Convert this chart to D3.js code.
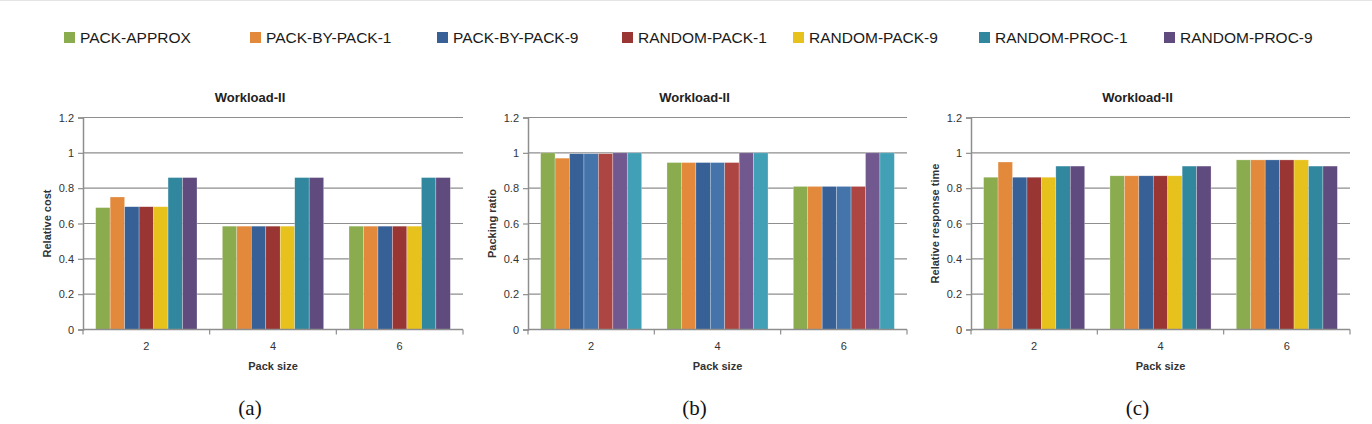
<!DOCTYPE html>
<html>
<head>
<meta charset="utf-8">
<script src="https://cdn.jsdelivr.net/npm/d3@7"></script>
<style>
  body { margin: 0; background: #fff; }
  svg { display: block; }
</style>
</head>
<body>
<svg id="chart" width="1372" height="424"></svg>
<script>
// data
var categories = ['2', '4', '6'];
var seriesNames = ['PACK-APPROX', 'PACK-BY-PACK-1', 'PACK-BY-PACK-9', 'RANDOM-PACK-1',
                   'RANDOM-PACK-9', 'RANDOM-PROC-1', 'RANDOM-PROC-9'];
var yTicks = [0, 0.2, 0.4, 0.6, 0.8, 1, 1.2];

// one row per pack size, one value per series
var costValues = [
  [0.69, 0.75, 0.695, 0.695, 0.695, 0.86, 0.86],
  [0.585, 0.585, 0.585, 0.585, 0.585, 0.86, 0.86],
  [0.585, 0.585, 0.585, 0.585, 0.585, 0.86, 0.86]
];
var packingValues = [
  [1.0, 0.97, 0.995, 0.995, 0.995, 1.0, 1.0],
  [0.945, 0.945, 0.945, 0.945, 0.945, 1.0, 1.0],
  [0.81, 0.81, 0.81, 0.81, 0.81, 1.0, 1.0]
];
var responseValues = [
  [0.862, 0.948, 0.862, 0.862, 0.862, 0.925, 0.925],
  [0.87, 0.87, 0.87, 0.87, 0.87, 0.925, 0.925],
  [0.96, 0.96, 0.96, 0.96, 0.96, 0.925, 0.925]
];

var legendColors = ['#8aab4e', '#e2893c', '#366096', '#993634', '#e7c11c', '#31879e', '#604b7e'];
// the middle panel uses a different fill order
var packingColors = ['#8aab4e', '#e2893c', '#366096', '#4574aa', '#ad4643', '#71588f', '#41a0b5'];

var panels = [
  {left: 83, right: 463, values: costValues, colors: legendColors, yLabel: 'Relative cost', caption: '(a)'},
  {left: 528, right: 907, values: packingValues, colors: packingColors, yLabel: 'Packing ratio', caption: '(b)'},
  {left: 971, right: 1350, values: responseValues, colors: legendColors, yLabel: 'Relative response time', caption: '(c)'}
];

var svg = d3.select('#chart');
var font = '"Liberation Sans", Arial, sans-serif';
var gridColor = '#8e8e8e';

// faint frame line along the top
svg.append('line')
  .attr('x1', 0).attr('x2', 1372)
  .attr('y1', 0.5).attr('y2', 0.5)
  .attr('stroke', '#e4e4e4');

// legend
var legendX = [64, 250, 437, 622, 793, 979, 1164];
var legend = svg.append('g').attr('class', 'legend');
seriesNames.forEach(function(name, i) {
  var g = legend.append('g').attr('transform', 'translate(' + legendX[i] + ',38)');
  g.append('rect')
    .attr('x', 0).attr('y', -6)
    .attr('width', 11).attr('height', 11)
    .attr('fill', legendColors[i]);
  g.append('text')
    .attr('x', 16).attr('y', 0)
    .attr('dy', '0.35em')
    .attr('font-family', font)
    .attr('font-size', 15.5)
    .attr('fill', '#1a1a1a')
    .text(name);
});

var yTop = 117.5, yBottom = 329.5;

panels.forEach(function(p) {
  var g = svg.append('g');

  var x0 = d3.scaleBand().domain(categories).range([p.left, p.right]).padding(0);
  var x1 = d3.scaleBand()
    .domain(d3.range(seriesNames.length))
    .range([x0.bandwidth() * 0.1, x0.bandwidth() * 0.9]);
  var y = d3.scaleLinear().domain([0, 1.2]).range([yBottom, yTop]);

  // horizontal gridlines
  g.selectAll('.grid')
    .data(yTicks.filter(function(t) { return t > 0; }))
    .enter().append('line')
    .attr('x1', p.left).attr('x2', p.right)
    .attr('y1', function(d) { return y(d); })
    .attr('y2', function(d) { return y(d); })
    .attr('stroke', gridColor)
    .attr('stroke-width', 1.2);

  // bars
  categories.forEach(function(c, ci) {
    g.selectAll('.bar-' + ci)
      .data(p.values[ci])
      .enter().append('rect')
      .attr('x', function(d, i) { return x0(c) + x1(i); })
      .attr('y', function(d) { return y(d); })
      .attr('width', x1.bandwidth())
      .attr('height', function(d) { return yBottom - y(d); })
      .attr('fill', function(d, i) { return p.colors[i]; })
      .attr('stroke', '#ffffff')
      .attr('stroke-opacity', 0.45)
      .attr('stroke-width', 0.6);
  });

  // y axis
  var yAxis = g.append('g')
    .attr('transform', 'translate(' + p.left + ',0)')
    .call(d3.axisLeft(y).tickValues(yTicks).tickSize(5).tickPadding(4)
      .tickFormat(function(d) { return d3.format('~g')(d); }));
  yAxis.select('.domain').attr('stroke', gridColor).attr('stroke-width', 1.5);
  yAxis.selectAll('.tick line').attr('stroke', gridColor).attr('stroke-width', 1.2);
  yAxis.selectAll('text')
    .attr('font-family', font).attr('font-size', 11).attr('fill', '#333');

  // x axis, ticks between categories
  var xAxis = g.append('g').attr('transform', 'translate(0,' + yBottom + ')');
  xAxis.append('line')
    .attr('x1', p.left).attr('x2', p.right)
    .attr('stroke', gridColor).attr('stroke-width', 1.5);
  var bounds = categories.map(function(c) { return x0(c); }).concat([p.right]);
  xAxis.selectAll('.xtick')
    .data(bounds)
    .enter().append('line')
    .attr('x1', function(d) { return d; }).attr('x2', function(d) { return d; })
    .attr('y1', 0).attr('y2', 5)
    .attr('stroke', gridColor).attr('stroke-width', 1.2);
  xAxis.selectAll('.xlabel')
    .data(categories)
    .enter().append('text')
    .attr('x', function(d) { return x0(d) + x0.bandwidth() / 2; })
    .attr('y', 17)
    .attr('dy', '0.35em')
    .attr('text-anchor', 'middle')
    .attr('font-family', font).attr('font-size', 11).attr('fill', '#333')
    .text(function(d) { return d; });

  var mid = (p.left + p.right) / 2;
  // title and caption sit centred on the whole chart box, not the plot
  var boxMid = mid - 23;

  // title
  g.append('text')
    .attr('x', boxMid).attr('y', 97)
    .attr('dy', '0.35em')
    .attr('text-anchor', 'middle')
    .attr('font-family', font).attr('font-size', 13).attr('font-weight', 'bold')
    .attr('fill', '#222')
    .text('Workload-II');

  // axis titles
  g.append('text')
    .attr('x', mid).attr('y', 366)
    .attr('dy', '0.35em')
    .attr('text-anchor', 'middle')
    .attr('font-family', font).attr('font-size', 11).attr('font-weight', 'bold')
    .attr('fill', '#333')
    .text('Pack size');

  g.append('text')
    .attr('transform', 'translate(' + (p.left - 36) + ',' + ((yTop + yBottom) / 2) + ') rotate(-90)')
    .attr('dy', '0.35em')
    .attr('text-anchor', 'middle')
    .attr('font-family', font).attr('font-size', 11).attr('font-weight', 'bold')
    .attr('fill', '#333')
    .text(p.yLabel);

  // caption below
  g.append('text')
    .attr('x', boxMid).attr('y', 408)
    .attr('dy', '0.35em')
    .attr('text-anchor', 'middle')
    .attr('font-family', '"Liberation Serif", "Times New Roman", serif')
    .attr('font-size', 21)
    .attr('fill', '#111')
    .text(p.caption);
});
</script>
</body>
</html>
